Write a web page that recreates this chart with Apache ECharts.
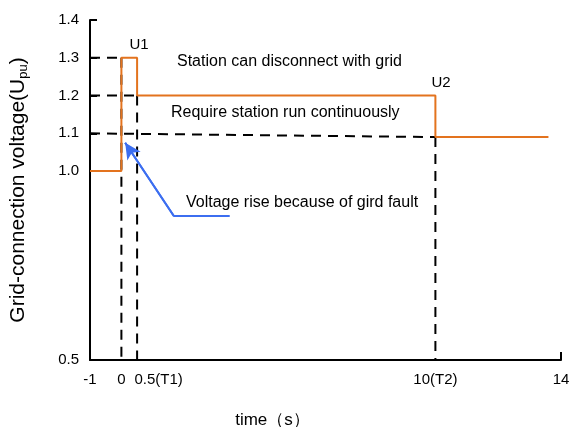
<!DOCTYPE html>
<html>
<head>
<meta charset="utf-8">
<script src="https://cdn.jsdelivr.net/npm/echarts@6/dist/echarts.min.js"></script>
<style>
  html, body { margin: 0; padding: 0; background: #fff; }
  #main { width: 569px; height: 427px; }
</style>
</head>
<body>
<div id="main"></div>
<script>
// voltage profile: time (s) vs voltage (pu)
var stepTime = [-1, 0, 0, 0.5, 0.5, 10, 10, 13.6];
var stepVolt = [1.0, 1.0, 1.3, 1.3, 1.2, 1.2, 1.09, 1.09];

// dashed guide lines, each [t0, u0, t1, u1]
var guides = [
  [-1, 1.3, 0, 1.3],
  [-1, 1.2, 0.5, 1.2],
  [-1, 1.1, 10, 1.09],
  [0, 1.3, 0, 0.5],
  [0.5, 1.2, 0.5, 0.5],
  [10, 1.09, 10, 0.5]
];

// pointer for the fault note
var arrowTime = [3.45, 1.67, 0.12];
var arrowVolt = [0.881, 0.881, 1.075];

var yTicks = [0.5, 1.0, 1.1, 1.2, 1.3, 1.4];
var xTicks = [-1, 0, 0.5, 10, 14];
var xTickLabels = ['-1', '0', '0.5(T1)', '10(T2)', '14'];

var FONT = '"Liberation Sans", Arial, sans-serif';
var chart = echarts.init(document.getElementById('main'));

var series = [];
guides.forEach(function (g) {
  series.push({
    type: 'line',
    data: [[g[0], g[1]], [g[2], g[3]]],
    showSymbol: false,
    silent: true,
    lineStyle: { color: '#000', width: 2, type: [10, 7] },
    z: 2
  });
});

series.push({
  type: 'line',
  data: stepTime.map(function (t, i) { return [t, stepVolt[i]]; }),
  showSymbol: false,
  lineStyle: { color: '#E3731E', width: 2 },
  z: 3
});

series.push({
  type: 'line',
  data: arrowTime.map(function (t, i) { return [t, arrowVolt[i]]; }),
  showSymbol: false,
  lineStyle: { color: '#3C6EF0', width: 2 },
  z: 4,
  markLine: {
    silent: true,
    symbol: ['none', 'arrow'],
    symbolSize: [12, 16],
    label: { show: false },
    lineStyle: { color: '#3C6EF0', width: 2, type: 'solid' },
    data: [[{ coord: [arrowTime[1], arrowVolt[1]] }, { coord: [arrowTime[2], arrowVolt[2]] }]]
  }
});

chart.setOption({
  animation: false,
  textStyle: { fontFamily: FONT },
  grid: { left: 90, right: 8, top: 20, bottom: 67, outerBoundsMode: 'none' },
  xAxis: {
    type: 'value',
    min: -1,
    max: 14,
    name: 'time（s）',
    nameLocation: 'middle',
    nameGap: 52,
    nameTextStyle: { fontSize: 17, color: '#000', padding: [0, 106, 0, 0] },
    splitLine: { show: false },
    axisLine: { show: true, onZero: false, lineStyle: { color: '#000', width: 2 } },
    axisTick: { show: true, inside: true, length: 8, customValues: [14], lineStyle: { color: '#000', width: 2 } },
    axisLabel: {
      customValues: xTicks,
      fontSize: 15,
      color: '#000',
      margin: 12,
      formatter: function (v) {
        var i = xTicks.indexOf(v);
        var s = i >= 0 ? xTickLabels[i] : '';
        return v === 0.5 ? '{t|' + s + '}' : s;
      },
      rich: { t: { fontSize: 15, color: '#000', padding: [0, 0, 0, 43] } }
    }
  },
  yAxis: {
    type: 'value',
    min: 0.5,
    max: 1.4,
    interval: 0.1,
    name: 'Grid-connection voltage(U{sub|pu})',
    nameLocation: 'middle',
    nameRotate: 90,
    nameGap: 60,
    nameTextStyle: {
      fontSize: 21,
      color: '#000',
      rich: { sub: { fontSize: 13, color: '#000', verticalAlign: 'bottom', padding: [10, 0, 0, 0] } }
    },
    splitLine: { show: false },
    axisLine: { show: true, onZero: false, lineStyle: { color: '#000', width: 2 } },
    axisTick: { show: true, inside: true, length: 7, customValues: yTicks, lineStyle: { color: '#000', width: 2 } },
    axisLabel: {
      customValues: yTicks,
      fontSize: 15,
      color: '#000',
      margin: 11,
      formatter: function (v) { return v.toFixed(1); }
    }
  },
  graphic: [
    { type: 'text', x: 139, y: 45, style: { text: 'U1', font: '15px ' + FONT, fill: '#000', align: 'center', verticalAlign: 'middle' } },
    { type: 'text', x: 177, y: 62, style: { text: 'Station can disconnect with grid', font: '16px ' + FONT, fill: '#000', verticalAlign: 'middle' } },
    { type: 'text', x: 441, y: 83, style: { text: 'U2', font: '15px ' + FONT, fill: '#000', align: 'center', verticalAlign: 'middle' } },
    { type: 'text', x: 171, y: 113, style: { text: 'Require station run continuously', font: '16px ' + FONT, fill: '#000', verticalAlign: 'middle' } },
    { type: 'text', x: 186, y: 203, style: { text: 'Voltage rise because of gird fault', font: '16px ' + FONT, fill: '#000', verticalAlign: 'middle' } }
  ],
  series: series
});
</script>
</body>
</html>
